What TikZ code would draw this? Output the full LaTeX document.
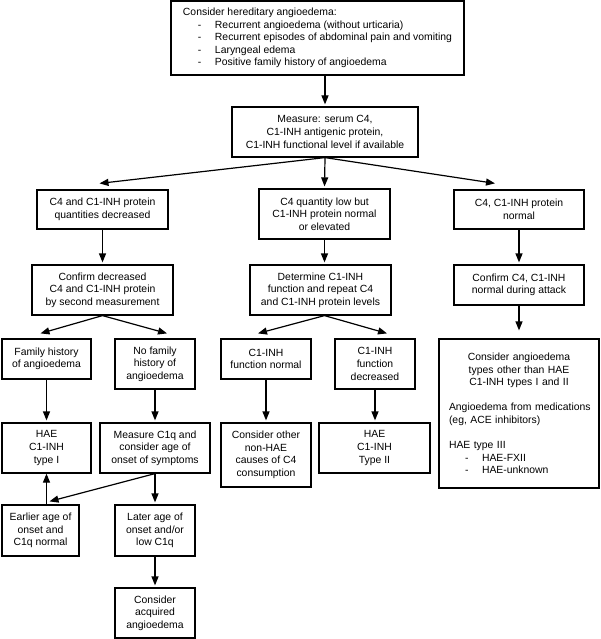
\documentclass[tikz,border=0pt]{standalone}
\usepackage{fontspec}
\setmainfont{Liberation Sans}
\usetikzlibrary{arrows.meta,calc}
\tikzset{
  box/.style={draw, line width=1.2pt, inner sep=0pt, align=center,
    font=\fontsize{10.4}{12.6}\selectfont},
  arr/.style={line width=1.2pt, -{Triangle[length=9pt,width=7pt]}},
  varr/.style={arr, shorten >=2pt},
}
\newcommand{\itm}[2]{\hspace*{#1}\makebox[17pt][l]{-}#2}
\begin{document}
\begin{tikzpicture}[x=1pt,y=-1pt]
\useasboundingbox (0,0) rectangle (600,639);
% nodes
\node[box, align=left, minimum width=293pt, minimum height=74pt] (top) at (317.5,38)
  {Consider hereditary angioedema:\\
   \itm{15pt}{Recurrent angioedema (without urticaria)}\\
   \itm{15pt}{Recurrent episodes of abdominal pain and vomiting}\\
   \itm{15pt}{Laryngeal edema}\\
   \itm{15pt}{Positive family history of angioedema}};
\node[box, minimum width=186pt, minimum height=50pt] (meas) at (325,132)
  {Measure: serum C4,\\C1-INH antigenic protein,\\C1-INH functional level if available};
\node[box, minimum width=131pt, minimum height=39pt] (L2a) at (102.5,209.5)
  {C4 and C1-INH protein\\quantities decreased};
\node[box, minimum width=131pt, minimum height=50pt] (L2b) at (324.5,214)
  {C4 quantity low but\\C1-INH protein normal\\or elevated};
\node[box, minimum width=130pt, minimum height=39pt] (L2c) at (519,209.5)
  {C4, C1-INH protein\\normal};
\node[box, minimum width=141pt, minimum height=50pt] (L3a) at (102.5,290)
  {Confirm decreased\\C4 and C1-INH protein\\by second measurement};
\node[box, minimum width=141pt, minimum height=50pt] (L3b) at (320.5,290)
  {Determine C1-INH\\function and repeat C4\\and C1-INH protein levels};
\node[box, minimum width=130pt, minimum height=40pt] (L3c) at (519,285)
  {Confirm C4, C1-INH\\normal during attack};
\node[box, minimum width=89pt, minimum height=40pt] (L4a) at (46.5,359)
  {Family history\\of angioedema};
\node[box, minimum width=80pt, minimum height=50pt] (L4b) at (155,364)
  {No family\\history of\\angioedema};
\node[box, minimum width=90pt, minimum height=40pt] (L4c) at (266,359)
  {C1-INH\\function normal};
\node[box, minimum width=80pt, minimum height=50pt] (L4d) at (375,364)
  {C1-INH\\function\\decreased};
\node[box, minimum width=160pt, minimum height=149pt, text width=140pt, align=left] (L4e) at (519,413.5)
  {{\centering Consider angioedema\\types other than HAE\\C1-INH types I and II\par}
   \vspace{12.6pt}
   \mbox{Angioedema from medications}\\(eg, ACE inhibitors)\par
   \vspace{12.6pt}
   HAE type III\\
   \itm{16pt}{HAE-FXII}\\
   \itm{16pt}{HAE-unknown}};
\node[box, minimum width=89pt, minimum height=50pt] (L5a) at (46.5,448)
  {HAE\\C1-INH\\type I};
\node[box, minimum width=110pt, minimum height=50pt] (L5b) at (155,448)
  {Measure C1q and\\consider age of\\onset of symptoms};
\node[box, minimum width=90pt, minimum height=64pt] (L5c) at (266,455)
  {Consider other\\non-HAE\\causes of C4\\consumption};
\node[box, minimum width=111pt, minimum height=50pt] (L5d) at (374.5,448)
  {HAE\\C1-INH\\Type II};
\node[box, minimum width=77pt, minimum height=51pt] (L6a) at (40.5,530.5)
  {Earlier age of\\onset and\\C1q normal};
\node[box, minimum width=80pt, minimum height=51pt] (L6b) at (155,530.5)
  {Later age of\\onset and/or\\low C1q};
\node[box, minimum width=80pt, minimum height=50pt] (L7) at (155,613)
  {Consider\\acquired\\angioedema};
% connectors
\draw[varr] (meas.north |- top.south) -- (meas.north);
\draw[varr] (meas.south) -- (L2b.north);
\draw[arr] (meas.south) -- ($(L2a.north)+(-3,-6)$);
\draw[arr] (meas.south) -- ($(L2c.north)+(-24,-6)$);
\draw[varr] (L2a.south) -- (L3a.north);
\draw[varr] (L2b.south) -- (L2b.south |- L3b.north);
\draw[varr] (L2c.south) -- (L3c.north);
\draw[arr] (L3a.south) -- ($(L4a.north)+(-6,-5)$);
\draw[arr] (L3a.south) -- ($(L4b.north)+(12,-5)$);
\draw[arr] (L2b.south |- L3b.south) -- ($(L4c.north)+(-8,-5)$);
\draw[arr] (L2b.south |- L3b.south) -- ($(L4d.north)+(12,-5)$);
\draw[arr, shorten >=8pt] (L3c.south) -- (L4e.north);
\draw[varr] (L4a.south) -- (L5a.north);
\draw[varr] (L4b.south) -- (L5b.north);
\draw[varr] (L4c.south) -- (L5c.north);
\draw[varr] (L4d.south) -- (L4d.south |- L5d.north);
\draw[varr] (L5b.south) -- (L6b.north);
\draw[arr] (L5b.south) -- ($(L5a.south |- L6a.north)+(3,-3)$);
\draw[arr] (L5a.south |- L6a.north) -- (L5a.south);
\draw[varr] (L6b.south) -- (L7.north);
\end{tikzpicture}
\end{document}
